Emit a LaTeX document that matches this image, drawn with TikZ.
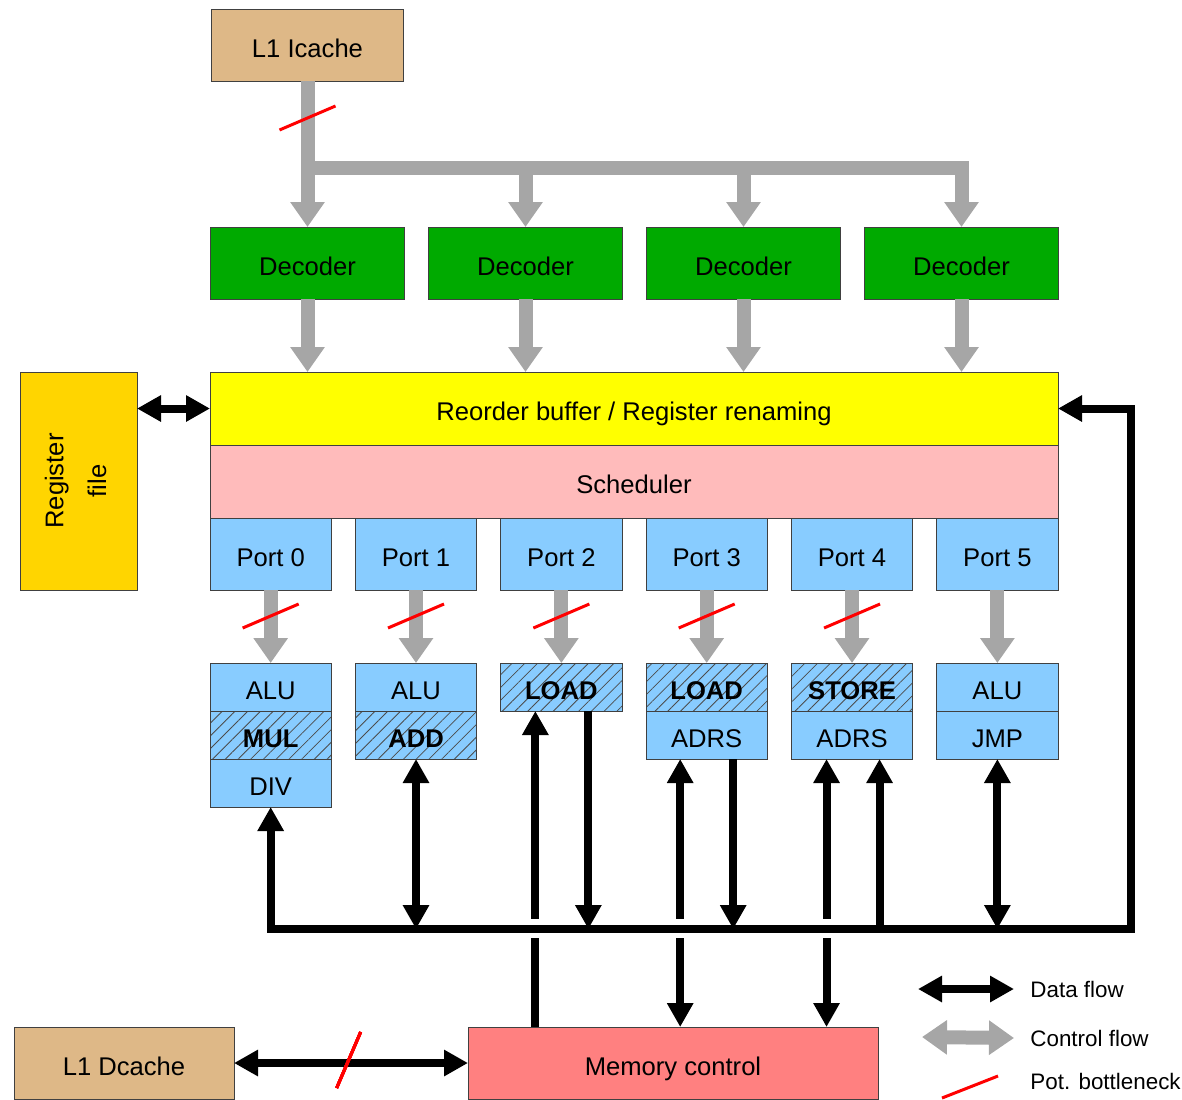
\documentclass[tikz,border=0pt]{standalone}
\usepackage{fontspec}
\setmainfont{Liberation Sans}
\usetikzlibrary{arrows.meta,calc,positioning,patterns.meta}

\definecolor{cachetan}{HTML}{DEB887}
\definecolor{decgreen}{HTML}{00AA00}
\definecolor{robyellow}{HTML}{FFFF00}
\definecolor{schedpink}{HTML}{FFBBBB}
\definecolor{portblue}{HTML}{88CCFF}
\definecolor{reggold}{HTML}{FFD500}
\definecolor{mempink}{HTML}{FF8080}
\definecolor{ctrlgray}{HTML}{A6A6A6}

\newcommand{\bneck}[1]{\draw[slash] #1 ++(-28,12) -- ++(56,-24);}

\begin{document}
\begin{tikzpicture}[x=0.5pt, y=-0.5pt, node distance=12pt,
    box/.style={draw=black!75, line width=0.5pt, inner sep=0pt, outer sep=0pt,
                text height=12.2pt, text depth=0pt, font=\fontsize{12.8}{15.4}\selectfont},
    cache/.style={box, fill=cachetan, minimum width=96pt, minimum height=36pt},
    decoder/.style={box, fill=decgreen, minimum width=97pt, minimum height=36pt},
    wide/.style={box, minimum width=424pt, minimum height=36.5pt},
    port/.style={box, fill=portblue, minimum width=60.67pt, minimum height=36pt},
    unit/.style={box, fill=portblue, minimum width=60.67pt, minimum height=24pt},
    hatched/.style={box, minimum width=60.67pt, minimum height=24pt, preaction={fill=portblue},
                    pattern={Lines[angle=45,distance=4.5pt,line width=0.4pt]}, pattern color=black!70,
                    font=\fontsize{12.8}{15.4}\selectfont\bfseries},
    legend/.style={inner sep=0pt, anchor=west, font=\fontsize{11.2}{13.4}\selectfont},
    data/.style={line width=4pt, draw=black, >={Triangle[length=12pt,width=12.5pt]}},
    ctrl/.style={line width=7pt, draw=ctrlgray, >={Triangle[length=12.5pt,width=16.5pt]}, ->},
    slash/.style={draw=red, line width=1.5pt}]

    \useasboundingbox (0,0) rectangle (1182,1099);
    \clip (0,0) rectangle (1182,1099);

    \node[cache]                     (icache)  at (307.5,45)     {L1 Icache};
    \node[decoder]                   (dec1)    at (307.5,263)    {Decoder};
    \node[decoder, right=of dec1]    (dec2)                      {Decoder};
    \node[decoder, right=of dec2]    (dec3)                      {Decoder};
    \node[decoder, right=of dec3]    (dec4)                      {Decoder};

    \node[wide, fill=robyellow]      (rob)     at (634,408.5)    {Reorder buffer / Register renaming};
    \node[wide, fill=schedpink, below=0pt of rob] (sched)        {Scheduler};

    \node[port, anchor=north west]   (p0)      at (sched.south west) {Port 0};
    \node[port, right=of p0]         (p1)                        {Port 1};
    \node[port, right=of p1]         (p2)                        {Port 2};
    \node[port, right=of p2]         (p3)                        {Port 3};
    \node[port, right=of p3]         (p4)                        {Port 4};
    \node[port, right=of p4]         (p5)                        {Port 5};

    \node[unit, below=36.5pt of p0]  (u0a)                       {ALU};
    \node[hatched, below=0pt of u0a] (u0b)                       {MUL};
    \node[unit, below=0pt of u0b]    (u0c)                       {DIV};
    \node[unit, below=36.5pt of p1]  (u1a)                       {ALU};
    \node[hatched, below=0pt of u1a] (u1b)                       {ADD};
    \node[hatched, below=36.5pt of p2] (u2a)                     {LOAD};
    \node[hatched, below=36.5pt of p3] (u3a)                     {LOAD};
    \node[unit, below=0pt of u3a]    (u3b)                       {ADRS};
    \node[hatched, below=36.5pt of p4] (u4a)                     {STORE};
    \node[unit, below=0pt of u4a]    (u4b)                       {ADRS};
    \node[unit, below=36.5pt of p5]  (u5a)                       {ALU};
    \node[unit, below=0pt of u5a]    (u5b)                       {JMP};

    \node[box, fill=reggold, minimum width=58.5pt, minimum height=109pt, text height=, text depth=] (regfile) at (78.5,481)
        {\rotatebox{90}{\begin{tabular}{@{}c@{}}Register\\[6pt]file\end{tabular}}};
    \node[cache, minimum width=110pt] (dcache) at (124,1063)     {L1 Dcache};
    \node[box, fill=mempink, minimum width=205pt, minimum height=36pt] (mem) at (673,1063) {Memory control};

    \coordinate (split) at (307.5,168);
    \coordinate (bus)   at (268,929);
    \coordinate (busR)  at (1131,929);
    \coordinate (gapT)  at (0,919);
    \coordinate (gapB)  at (0,938);
    \coordinate (l2a) at ($(u2a.south)+(-26,0)$);
    \coordinate (l2b) at ($(u2a.south)+(27,0)$);
    \coordinate (l3a) at ($(u3b.south)+(-26.5,0)$);
    \coordinate (l3b) at ($(u3b.south)+(26.5,0)$);
    \coordinate (l4a) at ($(u4b.south)+(-25.5,0)$);
    \coordinate (l4b) at ($(u4b.south)+(27.5,0)$);

    % control flow
    \draw[ctrl] (icache.south) -- (dec1.north);
    \draw[ctrl] (split) -| (dec4.north);
    \draw[ctrl] (split -| dec2.north) -- (dec2.north);
    \draw[ctrl] (split -| dec3.north) -- (dec3.north);
    \draw[ctrl] (dec1.south) -- (dec1.south |- rob.north);
    \draw[ctrl] (dec2.south) -- (dec2.south |- rob.north);
    \draw[ctrl] (dec3.south) -- (dec3.south |- rob.north);
    \draw[ctrl] (dec4.south) -- (dec4.south |- rob.north);
    \draw[ctrl] (p0.south) -- (u0a.north);
    \draw[ctrl] (p1.south) -- (u1a.north);
    \draw[ctrl] (p2.south) -- (u2a.north);
    \draw[ctrl] (p3.south) -- (u3a.north);
    \draw[ctrl] (p4.south) -- (u4a.north);
    \draw[ctrl] (p5.south) -- (u5a.north);

    % data flow
    \draw[data, <->] (rob.west -| regfile.east) -- (rob.west);
    \draw[data, <->] (rob.east) -| (busR) -| (u0c.south);
    \draw[data, <->] (u1b.south) -- (u1b.south |- bus);
    \draw[data, <-]  (l2a) -- (l2a |- gapT);
    \draw[data]      (l2a |- gapB) -- (l2a |- mem.north);
    \draw[data, ->]  (l2b) -- (l2b |- bus);
    \draw[data, <-]  (l3a) -- (l3a |- gapT);
    \draw[data, ->]  (l3a |- gapB) -- (l3a |- mem.north);
    \draw[data, ->]  (l3b) -- (l3b |- bus);
    \draw[data, <-]  (l4a) -- (l4a |- gapT);
    \draw[data, ->]  (l4a |- gapB) -- (l4a |- mem.north);
    \draw[data, <-]  (l4b) -- (l4b |- bus);
    \draw[data, <->] (u5b.south) -- (u5b.south |- bus);
    \draw[data, <->] (dcache.east) -- (mem.west);

    % bottlenecks
    \bneck{($(icache.south)+(0,37)$)}
    \foreach \p in {p0,p1,p2,p3,p4}
        \bneck{($(\p.south)+(0,26)$)}
    \draw[slash] ($(dcache.east)!0.49!(mem.west)+(0,-3)$) ++(-12,28) -- ++(24,-56);

    % legend
    \node[legend] (lgdata) at (1030,989)  {Data flow};
    \node[legend] (lgctrl) at (1030,1038) {Control flow};
    \node[legend] (lgneck) at (1030,1081) {Pot. bottleneck};
    \coordinate (ld) at (918,989);
    \coordinate (lc) at (922,1037);
    \draw[data, <->] (ld) -- (lgdata.west -| 1014,0);
    \draw[ctrl, <->] (lc) -- (lgctrl.west -| 1014,0);
    \draw[slash] (942,1098) -- (998,1076);
\end{tikzpicture}
\end{document}
